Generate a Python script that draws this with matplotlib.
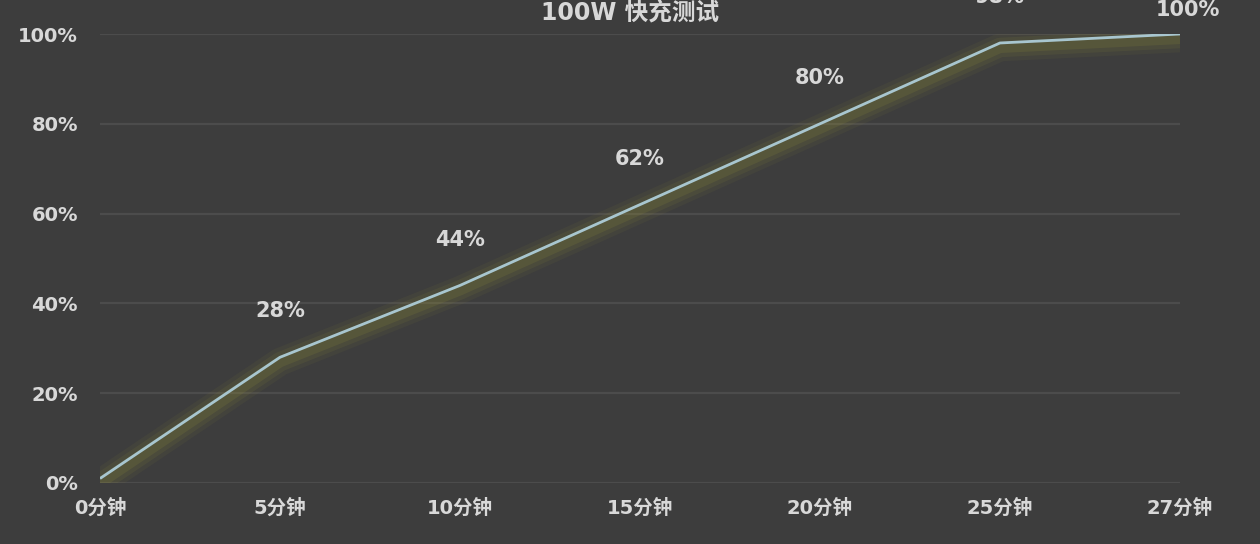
import matplotlib.pyplot as plt

plt.rcParams['font.family'] = ['DejaVu Sans', 'Noto Sans CJK SC']

minutes = ['0分钟', '5分钟', '10分钟', '15分钟', '20分钟', '25分钟', '27分钟']
charge = [1, 28, 44, 62, 80, 98, 100]
point_labels = ['', '28%', '44%', '62%', '80%', '98%', '100%']
y_ticks = [0, 20, 40, 60, 80, 100]
y_tick_labels = ['0%', '20%', '40%', '60%', '80%', '100%']
title = '100W 快充测试'

bg = '#3d3d3d'
text_col = '#d8d8d8'

fig = plt.figure(figsize=(12.6, 5.44), dpi=100, facecolor=bg)
ax = fig.add_axes([100/1260, 61/544, 1080/1260, 449/544])
ax.set_facecolor(bg)

x = list(range(len(minutes)))

# glow under the line
for lw, a in [(20, 0.08), (14, 0.12), (8, 0.18)]:
    ax.plot(x, [v - 1 for v in charge], color='#8c8a3a', lw=lw, alpha=a,
            solid_capstyle='butt', zorder=2)
ax.plot(x, charge, color='#a8c6cf', lw=2, zorder=3, solid_capstyle='butt')

for i, (xi, v, lab) in enumerate(zip(x, charge, point_labels)):
    if not lab:
        continue
    off = (6, 17) if i == len(x) - 1 else (0, 33)
    ax.annotate(lab, (xi, v), xytext=off, textcoords='offset points',
                ha='center', va='center', color=text_col, fontsize=15,
                fontweight='bold', annotation_clip=False)

ax.set_xlim(0, len(minutes) - 1)
ax.set_ylim(0, 100)
ax.set_yticks(y_ticks, y_tick_labels)
ax.set_xticks(x, minutes)
ax.yaxis.grid(True, color='#4c4c4c', lw=1.6)
ax.set_axisbelow(True)
ax.tick_params(axis='y', length=0, pad=16, labelsize=14, labelcolor=text_col)
ax.tick_params(axis='x', length=0, pad=11, labelsize=14, labelcolor=text_col)
for t in ax.get_xticklabels() + ax.get_yticklabels():
    t.set_fontweight('bold')
for s in ax.spines.values():
    s.set_visible(False)

fig.text(630/1260, 1 - 13/544, title, ha='center', va='center',
         color=text_col, fontsize=17, fontweight='bold')

fig.savefig('out.png', dpi=100, facecolor=bg)
